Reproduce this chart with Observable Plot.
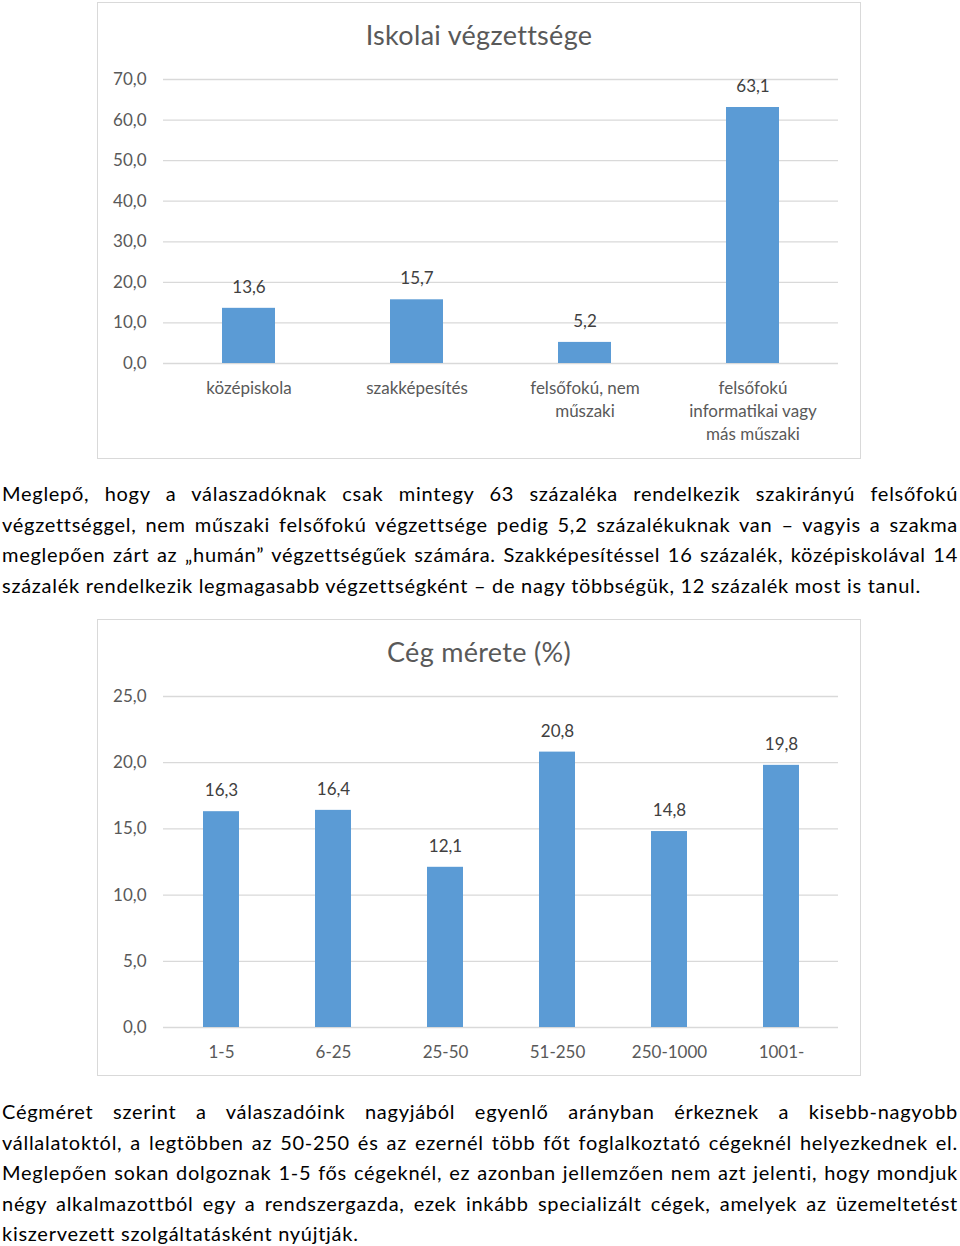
<!DOCTYPE html>
<html>
<head>
<meta charset="utf-8">
<script src="https://cdn.jsdelivr.net/npm/d3@7"></script>
<script src="https://cdn.jsdelivr.net/npm/@observablehq/plot@0.6"></script>
<style>
  html, body { margin: 0; padding: 0; background: #fff; }
  body { width: 960px; height: 1246px; position: relative; overflow: hidden; font-family: Lato, "Open Sans", sans-serif; }
  .box { position: absolute; left: 97px; width: 764px; height: 457px; box-sizing: border-box; border: 1px solid #d9d9d9; background: #fff; }
  .box h2 { margin: 0; padding-top: 15px; height: 36px; line-height: 34px; text-align: center; font-weight: normal; font-size: 27px; color: #595959; font-family: Lato, "Open Sans", sans-serif; letter-spacing: 0.3px; }
  .box svg { display: block; }
  .para { position: absolute; left: 2px; width: 956px; font-size: 20px; line-height: 30.6px; color: #000; letter-spacing: 0.72px; }
  .para div { white-space: nowrap; text-align: justify; text-align-last: justify; }
  .para div.last { text-align-last: left; }
</style>
</head>
<body>
<div class="box" id="box1" style="top:2px"><h2>Iskolai végzettsége</h2></div>
<div class="para" id="p1" style="top:478px"></div>
<div class="box" id="box2" style="top:619px"><h2>Cég mérete (%)</h2></div>
<div class="para" id="p2" style="top:1096px"></div>
<script>
// ---- data ----
const eduCategories = ["középiskola", "szakképesítés", "felsőfokú, nem\nműszaki", "felsőfokú\ninformatikai vagy\nmás műszaki"];
const eduValues = [13.6, 15.7, 5.2, 63.1];
const eduTicks = [0, 10, 20, 30, 40, 50, 60, 70];

const sizeCategories = ["1-5", "6-25", "25-50", "51-250", "250-1000", "1001-"];
const sizeValues = [16.3, 16.4, 12.1, 20.8, 14.8, 19.8];
const sizeTicks = [0, 5, 10, 15, 20, 25];

const para1Lines = [
  "Meglepő, hogy a válaszadóknak csak mintegy 63 százaléka rendelkezik szakirányú felsőfokú",
  "végzettséggel, nem műszaki felsőfokú végzettsége pedig 5,2 százalékuknak van – vagyis a szakma",
  "meglepően zárt az „humán” végzettségűek számára. Szakképesítéssel 16 százalék, középiskolával 14",
  "százalék rendelkezik legmagasabb végzettségként – de nagy többségük, 12 százalék most is tanul."
];
const para2Lines = [
  "Cégméret szerint a válaszadóink nagyjából egyenlő arányban érkeznek a kisebb-nagyobb",
  "vállalatoktól, a legtöbben az 50-250 és az ezernél több főt foglalkoztató cégeknél helyezkednek el.",
  "Meglepően sokan dolgoznak 1-5 fős cégeknél, ez azonban jellemzően nem azt jelenti, hogy mondjuk",
  "négy alkalmazottból egy a rendszergazda, ezek inkább specializált cégek, amelyek az üzemeltetést",
  "kiszervezett szolgáltatásként nyújtják."
];

const fmt = d => d.toFixed(1).replace(".", ",");

function barChart(categories, values, ticks, opts) {
  const data = categories.map((c, i) => ({cat: c, value: values[i]}));
  return Plot.plot({
    width: 762,
    height: 404,
    marginLeft: 65,
    marginRight: 22,
    marginTop: 25,
    marginBottom: opts.marginBottom,
    style: {fontFamily: "Lato, 'Open Sans', sans-serif", fontSize: "17px", color: "#595959", background: "transparent", overflow: "visible"},
    x: {domain: categories, paddingInner: opts.pad, paddingOuter: opts.pad / 2, label: null},
    y: {domain: [0, ticks[ticks.length - 1]], label: null},
    marks: [
      Plot.ruleY(ticks, {stroke: "#d9d9d9", strokeWidth: 1.3}),
      Plot.barY(data, {x: "cat", y: "value", fill: "#5B9BD5"}),
      Plot.text(data, {x: "cat", y: "value", text: d => fmt(d.value), dy: -21, fill: "#404040", fontSize: 17}),
      Plot.axisY({ticks, tickFormat: fmt, tickSize: 0, tickPadding: 17, fontSize: 17, label: null}),
      Plot.axisX({tickSize: 0, tickPadding: 14, fontSize: 17, lineHeight: 1.36, label: null})
    ]
  });
}

document.getElementById("box1").append(barChart(eduCategories, eduValues, eduTicks, {pad: 0.686, marginBottom: 95}));
document.getElementById("box2").append(barChart(sizeCategories, sizeValues, sizeTicks, {pad: 0.68, marginBottom: 48}));

function fillPara(id, lines) {
  const el = document.getElementById(id);
  lines.forEach((t, i) => {
    const d = document.createElement("div");
    d.textContent = t;
    if (i === lines.length - 1) d.className = "last";
    el.append(d);
  });
}
fillPara("p1", para1Lines);
fillPara("p2", para2Lines);
</script>
</body>
</html>
